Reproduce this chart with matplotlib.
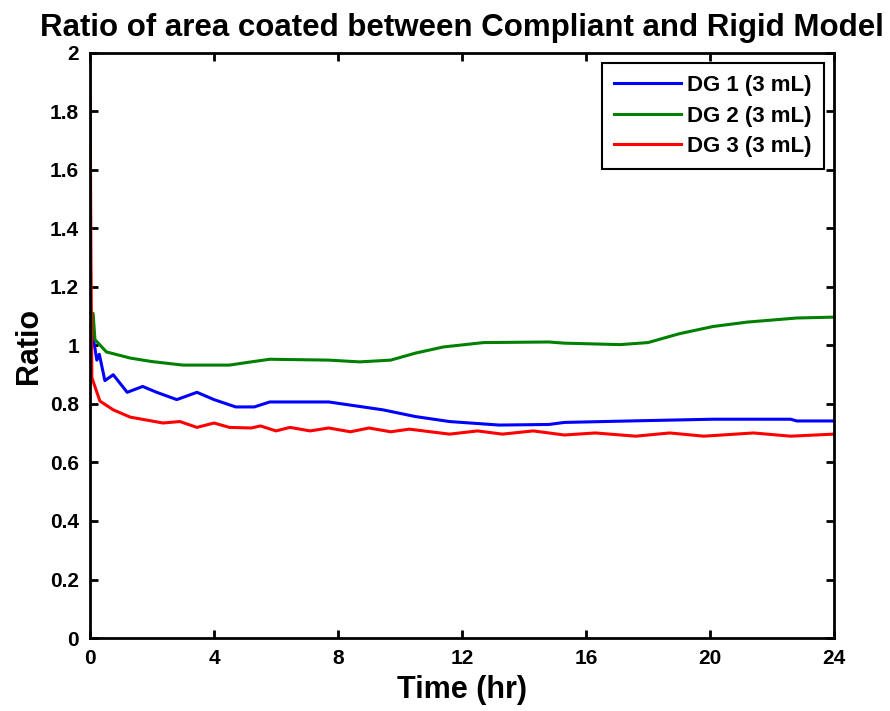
import matplotlib
matplotlib.use("Agg")
import matplotlib.pyplot as plt
import numpy as np

plt.rcParams['font.family'] = ['Liberation Sans', 'DejaVu Sans']
plt.rcParams['font.weight'] = 'bold'

# DG 1 (3 mL)
t1 = [0.0, 0.1, 0.22, 0.3, 0.48, 0.75, 1.2, 1.7, 2.15, 2.8, 3.45, 4.0, 4.7, 5.3, 5.8,
      7.7, 9.45, 10.5, 11.6, 13.2, 14.8, 15.3, 17.4, 20.1, 22.6, 22.8, 24.0]
r1 = [1.1, 1.03, 0.95, 0.97, 0.88, 0.90, 0.84, 0.86, 0.84, 0.815, 0.84, 0.815, 0.79, 0.79, 0.807,
      0.807, 0.78, 0.757, 0.74, 0.728, 0.73, 0.737, 0.742, 0.748, 0.748, 0.742, 0.742]

# DG 2 (3 mL)
t2 = [0.0, 0.1, 0.16, 0.53, 1.3, 2.0, 3.0, 4.5, 5.2, 5.8, 7.7, 8.7, 9.7, 10.5, 11.4,
      12.7, 14.8, 15.3, 17.1, 18.0, 19.0, 20.1, 21.2, 22.8, 24.0]
r2 = [1.0, 1.11, 1.02, 0.978, 0.957, 0.945, 0.933, 0.933, 0.944, 0.953, 0.95, 0.944, 0.95, 0.974, 0.995,
      1.01, 1.012, 1.008, 1.003, 1.01, 1.04, 1.065, 1.08, 1.094, 1.097]

# DG 3 (3 mL)
t3 = [0.0, 0.03, 0.06, 0.32, 0.75, 1.3, 1.83, 2.35, 2.9, 3.45, 4.0, 4.5, 5.2, 5.5, 6.0,
      6.45, 7.1, 7.7, 8.4, 9.0, 9.7, 10.3, 11.6, 12.5, 13.3, 14.3, 15.3, 16.3, 17.6,
      18.7, 19.8, 21.4, 22.6, 24.0]
r3 = [2.0, 1.3, 0.89, 0.81, 0.78, 0.755, 0.745, 0.735, 0.74, 0.72, 0.735, 0.72, 0.718, 0.725, 0.708,
      0.72, 0.708, 0.718, 0.705, 0.718, 0.705, 0.714, 0.697, 0.708, 0.697, 0.708, 0.694, 0.701, 0.69,
      0.701, 0.69, 0.701, 0.69, 0.697]

fig = plt.figure(figsize=(8.9, 7.11), dpi=100)
ax = fig.add_axes([90 / 890, 73 / 711, 744 / 890, 585 / 711])

ax.plot(t1, r1, color='#0000ff', lw=2.2, label='DG 1 (3 mL)')
ax.plot(t2, r2, color='#008000', lw=2.2, label='DG 2 (3 mL)')
ax.plot(t3, r3, color='#ff0000', lw=2.2, label='DG 3 (3 mL)')

ax.set_xlim(0, 24)
ax.set_ylim(0, 2)
ax.set_xticks(np.arange(0, 25, 4))
ax.set_yticks(np.arange(0, 2.01, 0.2))
ax.set_yticklabels(['0', '0.2', '0.4', '0.6', '0.8', '1', '1.2', '1.4', '1.6', '1.8', '2'])
ax.tick_params(direction='in', length=6, width=2, top=True, right=True, labelsize=15, pad=8)
for lbl in ax.get_xticklabels() + ax.get_yticklabels():
    lbl.set_fontweight('bold')
for sp in ax.spines.values():
    sp.set_linewidth(2)

ax.set_xlabel('Time (hr)', fontsize=22, fontweight='bold', labelpad=5)
ax.set_ylabel('Ratio', fontsize=22, fontweight='bold', labelpad=4)
ax.set_title('Ratio of area coated between Compliant and Rigid Model',
             fontsize=22.5, fontweight='bold', pad=12)

leg = ax.legend(loc='upper right', fontsize=16, fancybox=False, framealpha=1,
                edgecolor='black', handlelength=3, handletextpad=0.3,
                labelspacing=0.42, borderpad=0.55, borderaxespad=0.45)
leg.get_frame().set_linewidth(1.5)

fig.savefig('out.png', dpi=100)
